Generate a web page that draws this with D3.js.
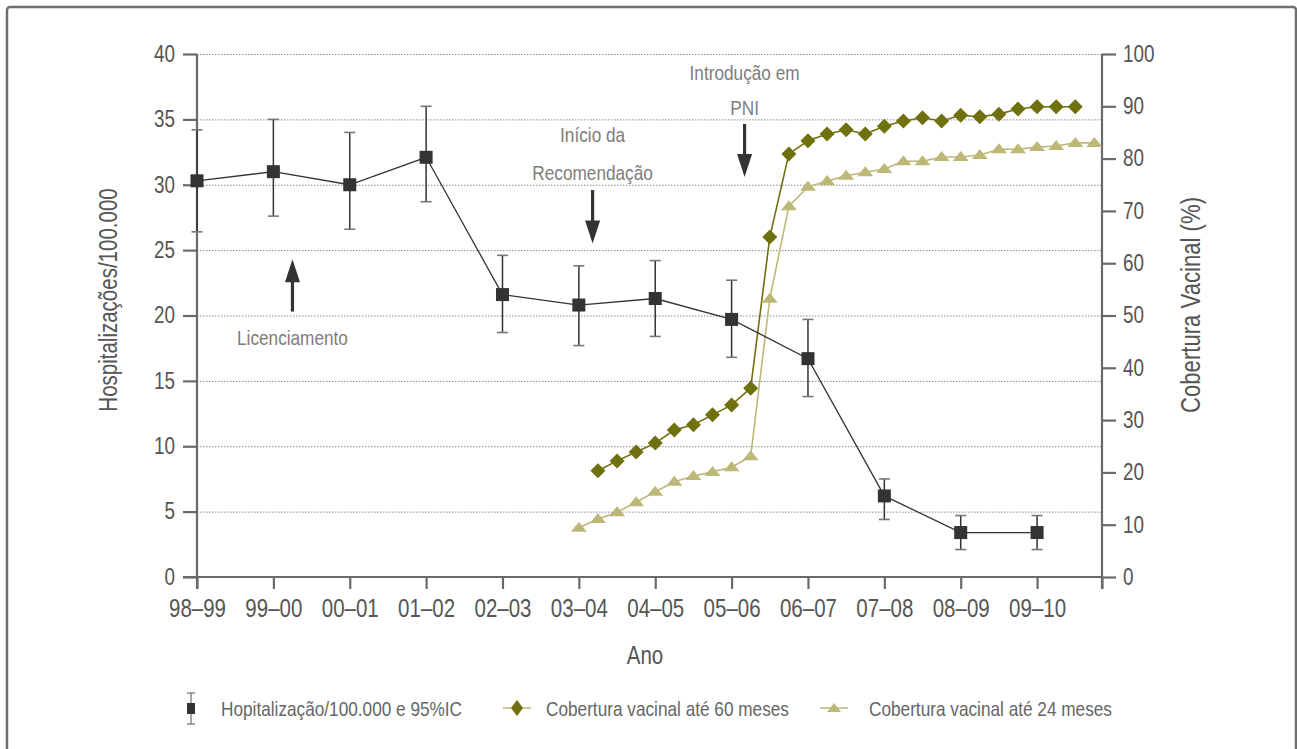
<!DOCTYPE html>
<html>
<head>
<meta charset="utf-8">
<script src="https://cdn.jsdelivr.net/npm/d3@7"></script>
<style>
  body { margin: 0; background: #fff; }
  svg text { font-family: "Liberation Sans", Arial, sans-serif; }
</style>
</head>
<body>
<div id="vis"></div>
<script>
// --- data ---
var seasons = ["98–99", "99–00", "00–01", "01–02", "02–03", "03–04", "04–05", "05–06", "06–07", "07–08", "08–09", "09–10"];
var hospRate = [30.3, 31.0, 30.0, 32.1, 21.6, 20.8, 21.3, 19.7, 16.7, 6.2, 3.4, 3.4];
var hospLow  = [26.4, 27.6, 26.6, 28.7, 18.7, 17.7, 18.4, 16.8, 13.8, 4.4, 2.1, 2.1];
var hospHigh = [34.2, 35.0, 34.0, 36.0, 24.6, 23.8, 24.2, 22.7, 19.7, 7.5, 4.7, 4.7];

// quarterly coverage, 60 months: starts one quarter after 03-04
var cov60Start = 5.25;
var cov60 = [20.3, 22.2, 23.9, 25.6, 28.1, 29.1, 31.0, 32.9, 36.1, 65.0, 80.9, 83.4, 84.7, 85.5,
             84.7, 86.2, 87.2, 87.8, 87.2, 88.3, 88.0, 88.5, 89.5, 89.9, 89.9, 89.9];
// quarterly coverage, 24 months: starts at 03-04
var cov24Start = 5.0;
var cov24 = [9.4, 11.1, 12.4, 14.3, 16.3, 18.2, 19.3, 20.1, 21.0, 23.1, 53.2, 70.9, 74.6, 75.7,
             76.7, 77.4, 78.0, 79.5, 79.5, 80.3, 80.3, 80.7, 81.8, 81.8, 82.2, 82.4, 83.0, 83.0];

var leftTicks = [0, 5, 10, 15, 20, 25, 30, 35, 40];
var rightTicks = [0, 10, 20, 30, 40, 50, 60, 70, 80, 90, 100];

// annotation: position on x (season index), text baselines, arrow tail / tip (left-axis units)
var notes = [
  {lines: ["Licenciamento"], x: 1.25, textY: [345], tail: 20.3, tip: 24.3},
  {lines: ["Início da", "Recomendação"], x: 5.18, textY: [142, 180], tail: 29.6, tip: 25.5},
  {lines: ["Introdução em", "PNI"], x: 7.17, textY: [80, 115], tail: 34.65, tip: 30.6}
];

var W = 1297, H = 749;
var c60 = "#6f700e", c24 = "#bdb878", dark = "#333333";
var narrow = 0.82; // emulate the condensed face of the original

var svg = d3.select("#vis").append("svg")
    .attr("width", W)
    .attr("height", H);

function label(parent, x, y, s, size, anchor, fill, rot) {
    return parent.append("text")
        .attr("transform", "translate(" + x + "," + y + ") rotate(" + (rot || 0) + ") scale(" + narrow + ",1)")
        .attr("text-anchor", anchor)
        .attr("fill", fill)
        .style("font-size", size + "px")
        .text(s);
}

// frame
svg.append("rect")
    .attr("x", 7).attr("y", 7)
    .attr("width", 1289).attr("height", 770)
    .attr("rx", 3)
    .attr("fill", "none")
    .attr("stroke", "#6f6f6f")
    .attr("stroke-width", 2.5);

var x = d3.scaleLinear().domain([0, 11.85]).range([197, 1102]);
var y = d3.scaleLinear().domain([0, 40]).range([577, 54]);
var yR = d3.scaleLinear().domain([0, 100]).range([577, 54]);

// dotted gridlines
svg.selectAll(".grid")
    .data(leftTicks.filter(function(d) { return d > 0; }))
    .enter().append("line")
    .attr("class", "grid")
    .attr("x1", x(0)).attr("x2", x(11.85))
    .attr("y1", function(d) { return y(d) + 0.5; })
    .attr("y2", function(d) { return y(d) + 0.5; })
    .attr("stroke", "#8a8a8a")
    .attr("stroke-width", 1)
    .attr("stroke-dasharray", "1.5,1.5");

// left axis
var axL = svg.append("g")
    .attr("transform", "translate(" + x(0) + ",0)")
    .call(d3.axisLeft(y).tickValues(leftTicks).tickSize(14).tickPadding(8));
// right axis
var axR = svg.append("g")
    .attr("transform", "translate(" + x(11.85) + ",0)")
    .call(d3.axisRight(yR).tickValues(rightTicks).tickSize(14).tickPadding(7));
// bottom axis
var axB = svg.append("g")
    .attr("transform", "translate(0," + y(0) + ")")
    .call(d3.axisBottom(x).tickValues(d3.range(seasons.length).concat([11.85]))
        .tickFormat(function(d) { return seasons[d] || ""; })
        .tickSize(12).tickPadding(10));

[axL, axR, axB].forEach(function(g) {
    g.select(".domain").attr("stroke", "#6a6a6a").attr("stroke-width", 2.2);
    g.selectAll(".tick line").attr("stroke", "#6a6a6a").attr("stroke-width", 2.2);
    g.selectAll("text").attr("fill", "#555").style("font-size", "23px")
        .each(function() {
            var t = d3.select(this);
            t.attr("x", (+t.attr("x") || 0) / narrow).attr("transform", "scale(" + narrow + ",1)");
        });
});
axB.selectAll("text").style("font-size", "25px");
axL.select(".domain").attr("d", "M0,54V589");
axR.select(".domain").attr("d", "M0,54V589");
axB.select(".domain").attr("d", "M183,0H1102");

// axis titles
label(svg, 117, 300, "Hospitalizações/100.000", 25, "middle", "#555", -90);
label(svg, 1200, 305, "Cobertura Vacinal (%)", 27, "middle", "#555", -90);
label(svg, 645, 664, "Ano", 25, "middle", "#555");

// coverage series
var line60 = d3.line()
    .x(function(d, i) { return x(cov60Start + i * 0.25); })
    .y(function(d) { return yR(d); });
var line24 = d3.line()
    .x(function(d, i) { return x(cov24Start + i * 0.25); })
    .y(function(d) { return yR(d); });

svg.append("path").datum(cov24)
    .attr("d", line24).attr("fill", "none")
    .attr("stroke", c24).attr("stroke-width", 1.6);
svg.append("path").datum(cov60)
    .attr("d", line60).attr("fill", "none")
    .attr("stroke", c60).attr("stroke-width", 1.6);

svg.selectAll(".tri")
    .data(cov24)
    .enter().append("path")
    .attr("class", "tri")
    .attr("d", "M0,-5L8,5L-8,5Z")
    .attr("transform", function(d, i) { return "translate(" + x(cov24Start + i * 0.25) + "," + (yR(d) - 1) + ")"; })
    .attr("fill", c24);

svg.selectAll(".dia")
    .data(cov60)
    .enter().append("path")
    .attr("class", "dia")
    .attr("d", "M0,-7.5L7.5,0L0,7.5L-7.5,0Z")
    .attr("transform", function(d, i) { return "translate(" + x(cov60Start + i * 0.25) + "," + yR(d) + ")"; })
    .attr("fill", c60);

// hospitalisation series with 95% CI
var hospLine = d3.line()
    .x(function(d, i) { return x(i); })
    .y(function(d) { return y(d); });

svg.append("path").datum(hospRate)
    .attr("d", hospLine).attr("fill", "none")
    .attr("stroke", dark).attr("stroke-width", 1.3);

var eb = svg.selectAll(".eb")
    .data(hospRate)
    .enter().append("g")
    .attr("class", "eb");
eb.append("line")
    .attr("x1", function(d, i) { return x(i); })
    .attr("x2", function(d, i) { return x(i); })
    .attr("y1", function(d, i) { return y(hospHigh[i]); })
    .attr("y2", function(d, i) { return y(hospLow[i]); })
    .attr("stroke", dark).attr("stroke-width", 1.5);
[hospHigh, hospLow].forEach(function(arr) {
    eb.append("line")
        .attr("x1", function(d, i) { return x(i) - 5.5; })
        .attr("x2", function(d, i) { return x(i) + 5.5; })
        .attr("y1", function(d, i) { return y(arr[i]); })
        .attr("y2", function(d, i) { return y(arr[i]); })
        .attr("stroke", "#777").attr("stroke-width", 1.6);
});
eb.append("rect")
    .attr("x", function(d, i) { return x(i) - 6.5; })
    .attr("y", function(d) { return y(d) - 6.5; })
    .attr("width", 13).attr("height", 13)
    .attr("fill", dark);

// annotations with arrows
notes.forEach(function(n) {
    n.lines.forEach(function(t, k) {
        label(svg, x(n.x), n.textY[k], t, 21, "middle", "#7d7d7d");
    });
    var ax = x(n.x), tailY = y(n.tail), tipY = y(n.tip);
    var s = tipY > tailY ? 1 : -1;
    svg.append("line")
        .attr("x1", ax).attr("x2", ax)
        .attr("y1", tailY).attr("y2", tipY - s * 20)
        .attr("stroke", dark).attr("stroke-width", 3.2);
    svg.append("path")
        .attr("d", "M" + (ax - 7.5) + "," + (tipY - s * 23) + "L" + (ax + 7.5) + "," + (tipY - s * 23) + "L" + ax + "," + tipY + "Z")
        .attr("fill", dark);
});

// legend
var lg = svg.append("g").attr("transform", "translate(0,708)");
lg.append("line").attr("x1", 191).attr("x2", 191).attr("y1", -15).attr("y2", 16)
    .attr("stroke", "#777").attr("stroke-width", 1.3);
lg.append("line").attr("x1", 187).attr("x2", 195).attr("y1", -15).attr("y2", -15)
    .attr("stroke", "#777").attr("stroke-width", 1.3);
lg.append("line").attr("x1", 187).attr("x2", 195).attr("y1", 16).attr("y2", 16)
    .attr("stroke", "#777").attr("stroke-width", 1.3);
lg.append("rect").attr("x", 187).attr("y", -5).attr("width", 8).attr("height", 11).attr("fill", dark);

lg.append("line").attr("x1", 503).attr("x2", 531).attr("y1", 0).attr("y2", 0)
    .attr("stroke", c24).attr("stroke-width", 1.5);
lg.append("path").attr("d", "M0,-8L6,0L0,8L-6,0Z").attr("transform", "translate(517,0)").attr("fill", c60);

lg.append("line").attr("x1", 820).attr("x2", 848).attr("y1", 0).attr("y2", 0)
    .attr("stroke", c24).attr("stroke-width", 1.5);
lg.append("path").attr("d", "M0,-5L7,4L-7,4Z").attr("transform", "translate(834,0)").attr("fill", c24);

var legendText = [
    {x: 221, t: "Hopitalização/100.000 e 95%IC"},
    {x: 546, t: "Cobertura vacinal até 60 meses"},
    {x: 869, t: "Cobertura vacinal até 24 meses"}
];
legendText.forEach(function(d) {
    label(lg, d.x, 8, d.t, 21, "start", "#666");
});
</script>
</body>
</html>
